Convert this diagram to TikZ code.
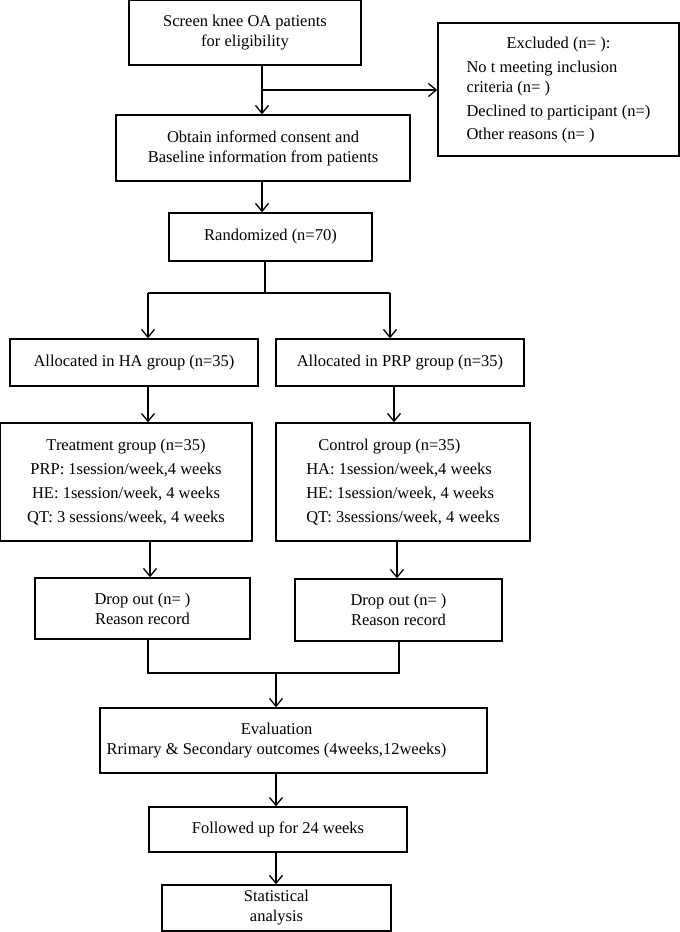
\documentclass[tikz,border=0pt]{standalone}
\usepackage{fontspec}
\setmainfont{Liberation Serif}
\usetikzlibrary{arrows.meta}

\begin{document}
\begin{tikzpicture}[x=1pt,y=-1pt,line width=1.3pt,>={Straight Barb[length=8pt,width=13pt]}]
\tikzstyle{box}=[draw,rectangle,inner sep=0pt,font=\fontsize{16.5}{20}\selectfont]
\tikzstyle{cbox}=[box,align=center]
\tikzstyle{flow}=[draw,->]

\useasboundingbox (0,0) rectangle (680,932);

\node[cbox,minimum width=232pt,minimum height=65pt] (screen) at (245,32.5)
  {Screen knee OA patients\\for eligibility};
\node[box,minimum width=241pt,minimum height=133pt] (excl) at (558.5,89.5)
  {\begin{tabular}{@{}l@{}}
   \multicolumn{1}{@{}c@{}}{Excluded (n= ):}\\[4pt]
   No t meeting inclusion\\
   criteria (n= )\\[4pt]
   Declined to participant (n=)\\[3pt]
   Other reasons (n= )
   \end{tabular}};
\node[cbox,minimum width=294pt,minimum height=66pt] (consent) at (263,148)
  {Obtain informed consent and\\Baseline information from patients};
\node[cbox,minimum width=203pt,minimum height=48pt] (rand) at (270.5,237)
  {Randomized (n=70)};

\node[cbox,minimum width=248pt,minimum height=47pt] (ha) at (134,362.5)
  {Allocated in HA group (n=35)};
\node[cbox,minimum width=248pt,minimum height=47pt] (prp) at (400,362.5)
  {Allocated in PRP group (n=35)};

\node[cbox,minimum width=252pt,minimum height=118pt] (treat) at (126,482)
  {Treatment group (n=35)\\[4pt]
   PRP: 1session/week,4 weeks\\[4pt]
   HE: 1session/week, 4 weeks\\[4pt]
   QT: 3 sessions/week, 4 weeks};
\node[box,minimum width=254pt,minimum height=118pt] (ctrl) at (403,482)
  {\begin{tabular}{@{}l@{}}
   \hspace*{12pt}Control group (n=35)\\[4pt]
   HA: 1session/week,4 weeks\\[4pt]
   HE: 1session/week, 4 weeks\\[4pt]
   QT: 3sessions/week, 4 weeks
   \end{tabular}};

\node[cbox,minimum width=215pt,minimum height=61pt] (dropl) at (142.5,608.5)
  {Drop out (n= )\\Reason record};
\node[cbox,minimum width=207pt,minimum height=62pt] (dropr) at (398.5,610)
  {Drop out (n= )\\Reason record};

\node[box,minimum width=387pt,minimum height=65pt] (eval) at (293.5,740.5)
  {\begin{tabular}{@{}c@{}}
   Evaluation\\
   Rrimary \& Secondary outcomes (4weeks,12weeks)
   \end{tabular}\rule{34pt}{0pt}};
\node[cbox,minimum width=258pt,minimum height=45pt] (follow) at (278,829.5)
  {Followed up for 24 weeks};
\node[cbox,minimum width=229pt,minimum height=46pt] (stat) at (276.5,908)
  {Statistical\\analysis};

\coordinate (split) at (262,90);
\coordinate (fork) at (265,293);
\coordinate (forkl) at (148,293);
\coordinate (forkr) at (390,293);
\coordinate (join) at (276,673);
\coordinate (joinl) at (148,673);
\coordinate (joinr) at (399,673);

\draw[->] (screen.south -| split) -- (consent.north -| split);
\draw[->] (split) -- (excl.west |- split);
\draw[->] (consent.south -| split) -- (rand.north -| split);
\draw (rand.south -| fork) -- (fork);
\draw (forkl) -- (forkr);
\draw[->] (forkl) -- (ha.north -| forkl);
\draw[->] (forkr) -- (prp.north -| forkr);
\draw[->] (ha.south -| forkl) -- (treat.north -| forkl);
\draw[->] (prp.south -| 394,0) -- (ctrl.north -| 394,0);
\draw[->] (treat.south -| 150,0) -- (dropl.north -| 150,0);
\draw[->] (ctrl.south -| 397,0) -- (dropr.north -| 397,0);
\draw (dropl.south -| joinl) -- (joinl) -- (joinr) -- (dropr.south -| joinr);
\draw[->] (join) -- (eval.north -| join);
\draw[->] (eval.south -| join) -- (follow.north -| join);
\draw[->] (follow.south -| join) -- (stat.north -| join);

\end{tikzpicture}
\end{document}
